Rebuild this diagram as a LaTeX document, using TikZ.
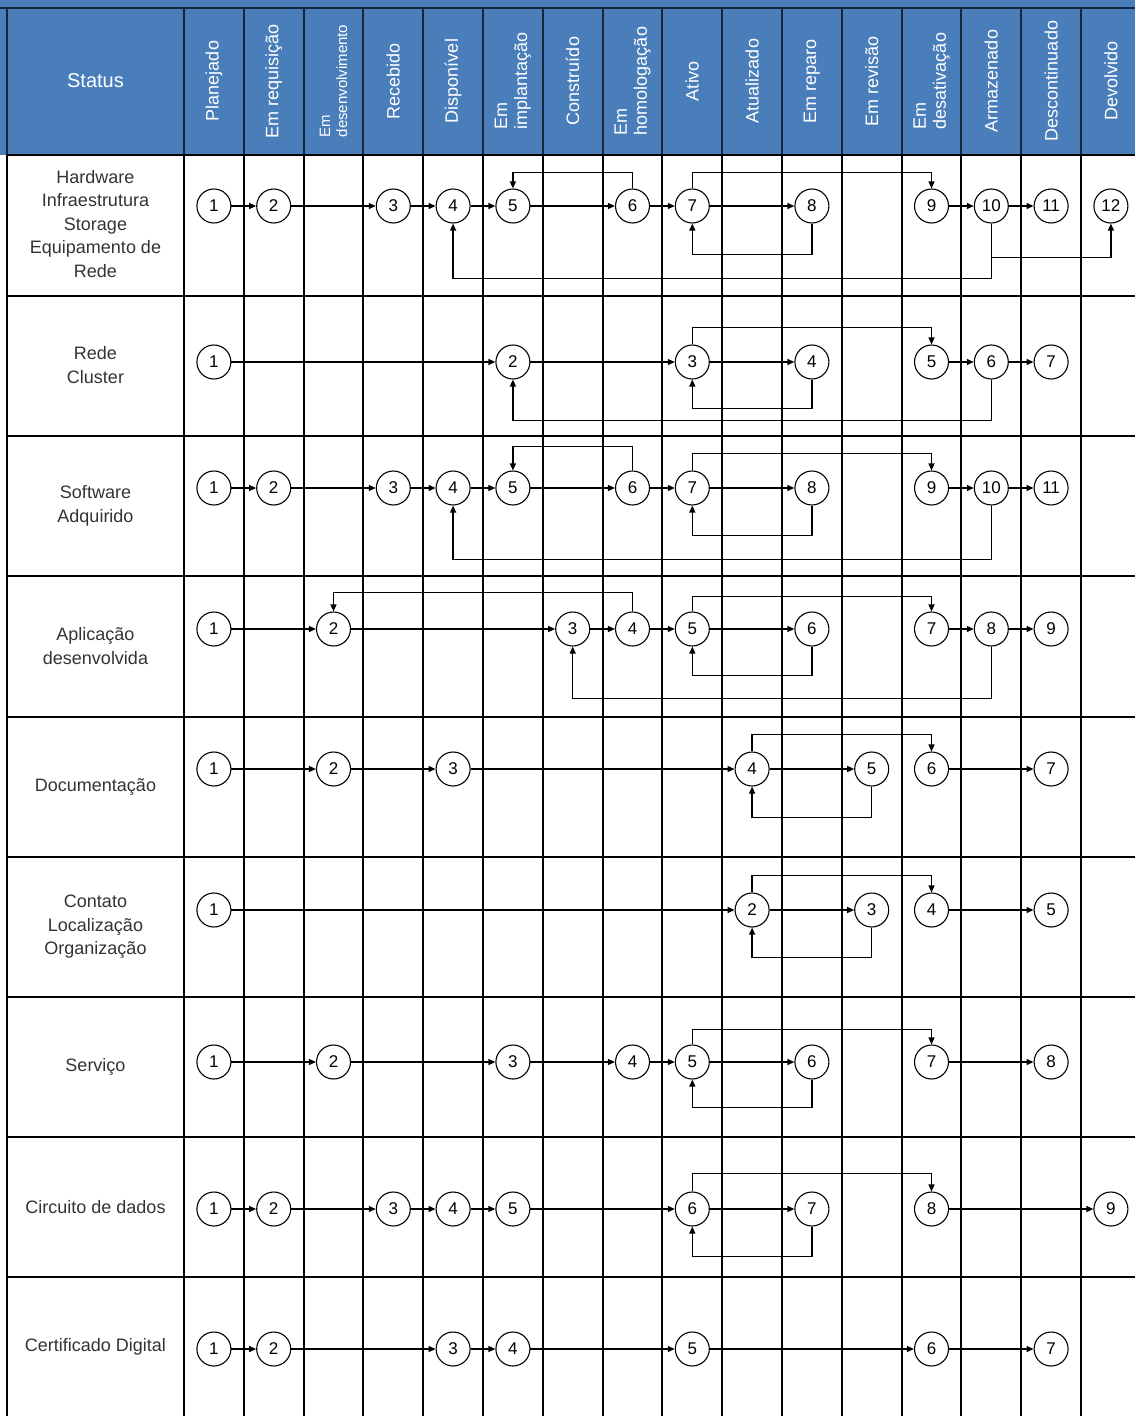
\documentclass[tikz,border=0pt]{standalone}
\usepackage{fontspec}
\setmainfont{Liberation Sans}
\usetikzlibrary{arrows.meta,positioning,calc}
\definecolor{hdrblue}{HTML}{4A7EBB}
\definecolor{hdrline}{HTML}{17263F}
\definecolor{lbltext}{HTML}{333333}

\begin{document}
\begin{tikzpicture}[x=1pt, y=-1pt, >={Triangle[length=7pt,width=6pt]},
  declare function={cx(\c)=184+59.8*(\c-0.5);},
  estado/.style={draw, circle, minimum size=34pt, inner sep=0pt, line width=1.1pt,
    fill=white, font=\fontsize{17}{17}\selectfont},
  fluxo/.style={->, line width=1.3pt},
  cab/.style={text=white, font=\fontsize{18}{20}\selectfont, rotate=90, align=left, inner sep=0pt},
  rotulo/.style={text=lbltext, font=\fontsize{18}{23.5}\selectfont, align=center, inner sep=0pt},
  grade/.style={line width=2pt, draw=black}]
\clip (0,0) rectangle (1135,1416);
% cabecalho
\fill[hdrblue] (0,0) rectangle (1135,155);
\draw[hdrline, line width=2pt] (0,8) -- (1135,8);
\draw[hdrline, line width=2pt] (7,8) -- (7,155);
\foreach \k in {0,...,16}
  \draw[hdrline, line width=2pt] ({184+59.8*\k},8) -- ({184+59.8*\k},155);
\node[text=white, font=\fontsize{20}{20}\selectfont] (hst) at (95.5,81) {Status};
\foreach \k/\t in {1/Planejado, 2/Em requisição, 4/Recebido, 5/Disponível,
    6/{Em\\implantação}, 7/Construído, 8/{Em\\homologação}, 9/Ativo, 10/Atualizado,
    11/Em reparo, 12/Em revisão, 13/{Em\\desativação}, 14/Armazenado,
    15/Descontinuado, 16/Devolvido}
  \node[cab] (h\k) at ({cx(\k)},81) {\t};
\node[cab, font=\fontsize{15}{17}\selectfont] (h3) at ({cx(3)},81) {Em\\desenvolvimento};
% grade
\draw[grade] (7,155) -- (7,1416);
\foreach \k in {0,...,16}
  \draw[grade] ({184+59.8*\k},155) -- ({184+59.8*\k},1416);
\foreach \y in {155,296,436,576,717,857,997,1137,1277}
  \draw[grade, line width=2.6pt] (7,\y) -- (1135,\y);
% rotulos
\node[rotulo] (l1) at (95.5,224) {Hardware\\Infraestrutura\\Storage\\Equipamento de\\Rede};
\node[rotulo] (l2) at (95.5,365) {Rede\\Cluster};
\node[rotulo] (l3) at (95.5,506) {Software\\Adquirido};
\node[rotulo] (l4) at (95.5,646) {Aplicação\\desenvolvida};
\node[rotulo] (l5) at (95.5,787) {Documentação};
\node[rotulo] (l6) at (95.5,927) {Contato\\Localização\\Organização};
\node[rotulo] (l7) at (95.5,1067) {Serviço};
\node[rotulo] (l8) at (95.5,1207) {Circuito de dados};
\node[rotulo] (l9) at (95.5,1347) {Certificado Digital};

% Hardware
\foreach \n/\c in {1/1,2/2,3/4,4/5,5/6,6/8,7/9,8/11,9/13,10/14,11/15,12/16}
  \node[estado] (a\n) at ({cx(\c)},206) {\n};
\foreach \i/\j in {1/2,2/3,3/4,4/5,5/6,6/7,7/8,9/10,10/11}
  \draw[fluxo] (a\i) -- (a\j);
\draw[fluxo] (a6.north) -- ++(0,-16) -| (a5.north);
\draw[fluxo] (a7.north) -- ++(0,-16) -| (a9.north);
\draw[fluxo] (a8.south) -- ++(0,31) -| (a7.south);
\draw[fluxo] (a10.south) -- ++(0,34) -| (a12.south);
\draw[fluxo] (a10.south) -- ++(0,55) -| (a4.south);

% Rede / Cluster
\foreach \n/\c in {1/1,2/6,3/9,4/11,5/13,6/14,7/15}
  \node[estado] (b\n) at ({cx(\c)},362) {\n};
\foreach \i/\j in {1/2,2/3,3/4,5/6,6/7}
  \draw[fluxo] (b\i) -- (b\j);
\draw[fluxo] (b3.north) -- ++(0,-17) -| (b5.north);
\draw[fluxo] (b4.south) -- ++(0,29) -| (b3.south);
\draw[fluxo] (b6.south) -- ++(0,41) -| (b2.south);

% Software
\foreach \n/\c in {1/1,2/2,3/4,4/5,5/6,6/8,7/9,8/11,9/13,10/14,11/15}
  \node[estado] (c\n) at ({cx(\c)},488) {\n};
\foreach \i/\j in {1/2,2/3,3/4,4/5,5/6,6/7,7/8,9/10,10/11}
  \draw[fluxo] (c\i) -- (c\j);
\draw[fluxo] (c6.north) -- ++(0,-24) -| (c5.north);
\draw[fluxo] (c7.north) -- ++(0,-17) -| (c9.north);
\draw[fluxo] (c8.south) -- ++(0,30) -| (c7.south);
\draw[fluxo] (c10.south) -- ++(0,54) -| (c4.south);

% Aplicacao
\foreach \n/\c in {1/1,2/3,3/7,4/8,5/9,6/11,7/13,8/14,9/15}
  \node[estado] (d\n) at ({cx(\c)},629) {\n};
\foreach \i/\j in {1/2,2/3,3/4,4/5,5/6,7/8,8/9}
  \draw[fluxo] (d\i) -- (d\j);
\draw[fluxo] (d4.north) -- ++(0,-19) -| (d2.north);
\draw[fluxo] (d5.north) -- ++(0,-15) -| (d7.north);
\draw[fluxo] (d6.south) -- ++(0,29) -| (d5.south);
\draw[fluxo] (d8.south) -- ++(0,52) -| (d3.south);

% Documentacao
\foreach \n/\c in {1/1,2/3,3/5,4/10,5/12,6/13,7/15}
  \node[estado] (e\n) at ({cx(\c)},769) {\n};
\foreach \i/\j in {1/2,2/3,3/4,4/5,6/7}
  \draw[fluxo] (e\i) -- (e\j);
\draw[fluxo] (e4.north) -- ++(0,-17) -| (e6.north);
\draw[fluxo] (e5.south) -- ++(0,31) -| (e4.south);

% Contato
\foreach \n/\c in {1/1,2/10,3/12,4/13,5/15}
  \node[estado] (f\n) at ({cx(\c)},910) {\n};
\foreach \i/\j in {1/2,2/3,4/5}
  \draw[fluxo] (f\i) -- (f\j);
\draw[fluxo] (f2.north) -- ++(0,-17) -| (f4.north);
\draw[fluxo] (f3.south) -- ++(0,30) -| (f2.south);

% Servico
\foreach \n/\c in {1/1,2/3,3/6,4/8,5/9,6/11,7/13,8/15}
  \node[estado] (g\n) at ({cx(\c)},1062) {\n};
\foreach \i/\j in {1/2,2/3,3/4,4/5,5/6,7/8}
  \draw[fluxo] (g\i) -- (g\j);
\draw[fluxo] (g5.north) -- ++(0,-15) -| (g7.north);
\draw[fluxo] (g6.south) -- ++(0,28) -| (g5.south);

% Circuito de dados
\foreach \n/\c in {1/1,2/2,3/4,4/5,5/6,6/9,7/11,8/13,9/16}
  \node[estado] (k\n) at ({cx(\c)},1209) {\n};
\foreach \i/\j in {1/2,2/3,3/4,4/5,5/6,6/7,8/9}
  \draw[fluxo] (k\i) -- (k\j);
\draw[fluxo] (k6.north) -- ++(0,-18) -| (k8.north);
\draw[fluxo] (k7.south) -- ++(0,30) -| (k6.south);

% Certificado Digital
\foreach \n/\c in {1/1,2/2,3/5,4/6,5/9,6/13,7/15}
  \node[estado] (m\n) at ({cx(\c)},1349) {\n};
\foreach \i/\j in {1/2,2/3,3/4,4/5,5/6,6/7}
  \draw[fluxo] (m\i) -- (m\j);
\end{tikzpicture}
\end{document}
